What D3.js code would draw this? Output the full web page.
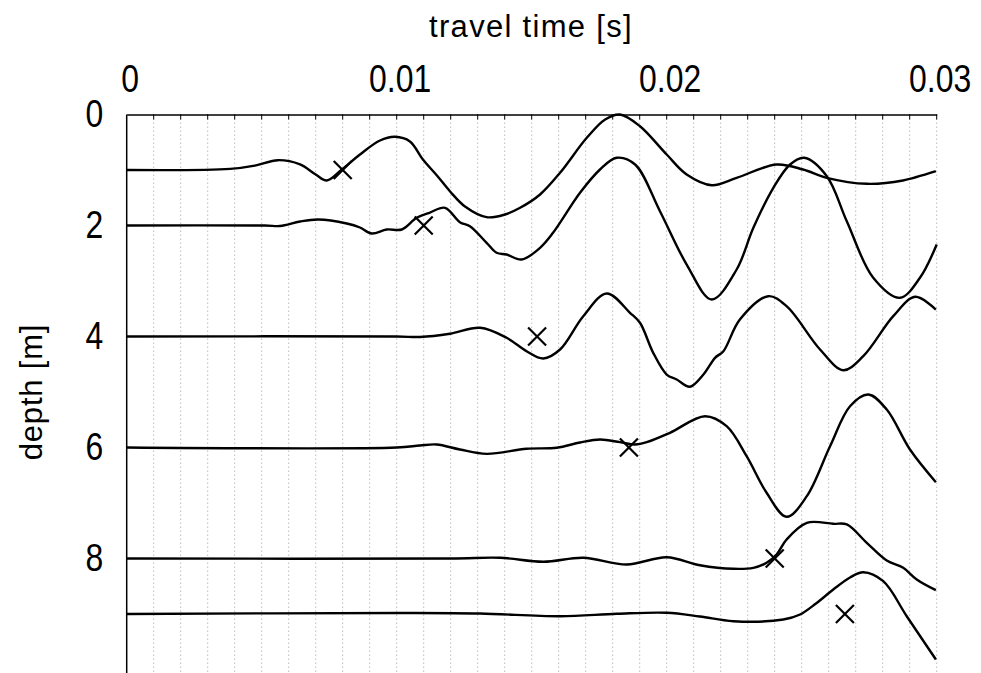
<!DOCTYPE html>
<html>
<head>
<meta charset="utf-8">
<script src="https://cdn.jsdelivr.net/npm/d3@7"></script>
<style>
  html, body { margin: 0; padding: 0; background: #fff; }
  text { font-family: "Liberation Sans", Arial, Helvetica, sans-serif; fill: #000; }
</style>
</head>
<body>
<svg id="chart" width="981" height="673"></svg>
<script>
// ---- data: [travel time (ms), depth (m)] ----
const trace1 = [[0,1.0],[3.83,0.98],[4.75,0.92],[5.6,0.823],[6.42,0.90],[7.0,1.081],[7.41,1.189],[7.97,0.99],[8.64,0.72],[9.38,0.468],[9.94,0.402],[10.49,0.486],[10.97,0.811],[11.49,1.099],[11.97,1.382],[12.53,1.658],[13.33,1.85],[14.01,1.802],[14.57,1.681],[15.31,1.441],[16.05,1.05],[17.04,0.42],[17.72,0.09],[18.27,0.0],[19.01,0.211],[20.0,0.721],[20.74,1.081],[21.67,1.274],[22.59,1.141],[24.07,0.901],[25.05,0.991],[25.93,1.141],[27.41,1.249],[28.75,1.189],[29.97,1.022]];
const trace2 = [[0,2.0],[5.12,2.0],[5.68,2.009],[6.42,1.928],[7.09,1.892],[8.15,1.964],[8.64,2.036],[9.07,2.144],[9.63,2.072],[10.19,2.072],[10.74,1.861],[11.23,1.766],[11.79,1.681],[12.34,1.941],[12.71,2.013],[13.33,2.312],[13.7,2.492],[14.07,2.523],[14.63,2.613],[15.31,2.402],[15.79,2.132],[16.79,1.411],[17.53,0.991],[18.15,0.78],[18.83,0.901],[19.75,1.742],[20.74,2.703],[21.67,3.333],[22.59,2.793],[23.21,2.041],[23.95,1.321],[24.57,0.901],[25.09,0.78],[25.93,1.112],[26.67,1.923],[27.65,2.942],[28.64,3.303],[29.38,2.942],[30.0,2.342]];
const trace4 = [[0,4.0],[10.0,4.0],[10.86,4.009],[11.97,3.951],[13.09,3.843],[14.07,4.023],[14.81,4.265],[15.43,4.396],[16.05,4.234],[16.91,3.634],[17.78,3.225],[18.64,3.573],[19.01,3.753],[19.5,4.294],[20.0,4.685],[20.37,4.775],[20.86,4.906],[21.36,4.685],[21.79,4.384],[22.1,4.265],[22.71,3.694],[23.76,3.274],[24.44,3.454],[25.68,4.234],[26.54,4.607],[27.28,4.355],[28.39,3.634],[29.2,3.285],[29.97,3.514]];
const trace6 = [[0,6.0],[10.0,6.0],[10.86,5.964],[11.48,5.946],[12.34,6.036],[13.33,6.114],[14.81,6.023],[15.93,6.005],[16.79,5.91],[17.53,5.856],[18.27,5.904],[18.83,5.946],[19.26,5.904],[20.12,5.735],[21.42,5.436],[22.22,5.616],[22.96,6.157],[23.7,6.816],[24.44,7.249],[25.19,6.877],[26.05,5.977],[26.79,5.256],[27.47,5.045],[28.15,5.315],[29.01,6.036],[29.97,6.625]];
const trace8 = [[0,8.0],[12.0,8.0],[13.83,7.987],[15.43,8.059],[16.91,7.987],[18.52,8.108],[20.0,7.977],[21.23,8.121],[22.47,8.186],[23.21,8.168],[23.7,8.077],[24.07,7.928],[24.44,7.658],[25.19,7.357],[26.17,7.375],[26.67,7.387],[27.41,7.717],[28.15,8.036],[28.76,8.168],[29.26,8.378],[29.97,8.571]];
const trace9 = [[0,9.0],[10.12,8.982],[13.09,8.991],[16.05,9.04],[18.15,8.996],[20.0,8.978],[21.23,9.045],[22.47,9.13],[24.32,9.099],[24.94,9.009],[25.53,8.811],[26.17,8.559],[26.79,8.342],[27.28,8.247],[28.02,8.409],[28.89,9.04],[29.97,9.82]];
const traces = [trace1, trace2, trace4, trace6, trace8, trace9];
// picked arrivals [time (s), depth (m)]
const markers = [[0.0080,1],[0.0110,2],[0.0152,4],[0.0186,6],[0.0240,8],[0.0266,9]];
const xTicks = [0, 0.01, 0.02, 0.03];
const xTickLabels = ["0", "0.01", "0.02", "0.03"];
const yTicks = [0, 2, 4, 6, 8];
const yTickLabels = ["0", "2", "4", "6", "8"];

// ---- layout ----
const svg = d3.select("#chart");
const x = d3.scaleLinear().domain([0, 0.03]).range([126.7, 936.7]);
const y = d3.scaleLinear().domain([0, 10]).range([114.5, 669.5]);
const bottom = 673;

// dotted vertical grid every 1 ms
const gridVals = d3.range(1, 31).map(i => i / 1000);
svg.append("g").selectAll("line").data(gridVals).join("line")
  .attr("x1", d => x(d)).attr("x2", d => x(d))
  .attr("y1", y(0)).attr("y2", bottom)
  .attr("stroke", "#ababab").attr("stroke-width", 0.8)
  .attr("stroke-dasharray", "1.5,2.5");

// top axis
const topAxis = d3.axisTop(x).tickValues(xTicks).tickFormat((d, i) => xTickLabels[i]).tickSize(0).tickPadding(23);
const gTop = svg.append("g").attr("transform", `translate(0,${y(0)})`).call(topAxis);
gTop.select(".domain").attr("stroke", "#000").attr("stroke-width", 1.3);
gTop.selectAll("text").style("font-size", "38px").attr("dx", 3.5)
  .attr("transform", "scale(0.84,1)");
// minor inward ticks
svg.append("g").selectAll("line").data(gridVals).join("line")
  .attr("x1", d => x(d)).attr("x2", d => x(d))
  .attr("y1", y(0)).attr("y2", y(0) + 5)
  .attr("stroke", "#000").attr("stroke-width", 1);

// left axis
const leftAxis = d3.axisLeft(y).tickValues(yTicks).tickFormat((d, i) => yTickLabels[i]).tickSize(0).tickPadding(28);
const gLeft = svg.append("g").attr("transform", `translate(${x(0)},0)`).call(leftAxis);
gLeft.select(".domain").remove();
gLeft.selectAll("text").style("font-size", "38px").attr("transform", "scale(0.84,1)");
svg.append("line").attr("x1", x(0)).attr("x2", x(0)).attr("y1", y(0)).attr("y2", bottom)
  .attr("stroke", "#000").attr("stroke-width", 1.5);

// titles
svg.append("text").attr("x", 531).attr("y", 37).attr("text-anchor", "middle")
  .style("font-size", "31px").style("letter-spacing", "1.3px").text("travel time [s]");
svg.append("text").attr("transform", "translate(42,392) rotate(-90)").attr("text-anchor", "middle")
  .style("font-size", "31px").style("letter-spacing", "0.8px").text("depth [m]");

// traces
const line = d3.line().x(d => x(d[0] / 1000)).y(d => y(d[1])).curve(d3.curveCatmullRom.alpha(0.5));
svg.append("g").selectAll("path").data(traces).join("path")
  .attr("d", line).attr("fill", "none").attr("stroke", "#000").attr("stroke-width", 2.4)
  .attr("stroke-linejoin", "round");

// X markers
const s = 9;
const gm = svg.append("g").attr("stroke", "#000").attr("stroke-width", 2.2);
markers.forEach(m => {
  const cx = x(m[0]), cy = y(m[1]);
  gm.append("line").attr("x1", cx - s).attr("y1", cy - s).attr("x2", cx + s).attr("y2", cy + s);
  gm.append("line").attr("x1", cx - s).attr("y1", cy + s).attr("x2", cx + s).attr("y2", cy - s);
});
</script>
</body>
</html>
